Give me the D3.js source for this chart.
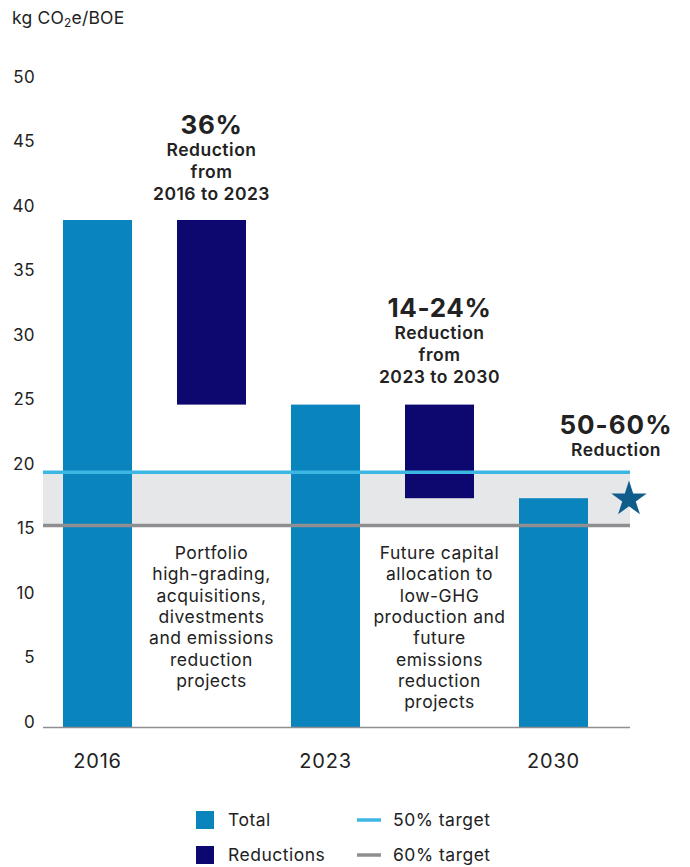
<!DOCTYPE html>
<html><head><meta charset="utf-8">
<script src="https://cdn.jsdelivr.net/npm/d3@7"></script>
<style>
body{margin:0;background:#fff;}
svg text{font-family:Inter,"Noto Sans",sans-serif;fill:#222;}
</style></head>
<body><svg id="c" width="690" height="867"></svg>
<script>
const slots = ["2016","r1","2023","r2","2030"];
const years = ["2016","2023","2030"];
const totals = [39, 24.8, 17.6];
const reductionSlots = ["r1","r2"];
const reductionFrom = [39, 24.8];
const reductionTo = [24.8, 17.6];
const target50 = 19.6;
const target60 = 15.5;
const starValue = 17.6;
const yTicks = [0,5,10,15,20,25,30,35,40,45,50];
const headlines = [
  {slot:"r1", big:"36%", lines:["Reduction","from","2016 to 2023"]},
  {slot:"r2", big:"14-24%", lines:["Reduction","from","2023 to 2030"]}
];
const notes = [
  {slot:"r1", lines:["Portfolio","high-grading,","acquisitions,","divestments","and emissions","reduction","projects"]},
  {slot:"r2", lines:["Future capital","allocation to","low-GHG","production and","future","emissions","reduction","projects"]}
];
const C = {total:"#0a84bd", red:"#0c0870", t50:"#3cb6e3", t60:"#8f8f91", band:"#e6e7e9", star:"#0e5d8a"};

const svg = d3.select("#c");
const y = d3.scaleLinear().domain([0,50]).range([727,77]);
const yLab = d3.scaleLinear().domain([0,50]).range([722,77]);
const x = d3.scaleBand().domain(slots).range([40.5,610.5]).paddingInner(45/114).paddingOuter(45/228);
const axisL = 43, axisR = 630;

svg.append("rect").attr("x",axisL).attr("width",axisR-axisL)
  .attr("y",y(target50)).attr("height",y(target60)-y(target50)).attr("fill",C.band);

svg.selectAll(".tot").data(years).join("rect")
  .attr("x",d=>x(d)).attr("width",x.bandwidth())
  .attr("y",(d,i)=>y(totals[i])).attr("height",(d,i)=>y(0)-y(totals[i])).attr("fill",C.total);
svg.selectAll(".red").data(reductionSlots).join("rect")
  .attr("x",d=>x(d)).attr("width",x.bandwidth())
  .attr("y",(d,i)=>y(reductionFrom[i])).attr("height",(d,i)=>y(reductionTo[i])-y(reductionFrom[i])).attr("fill",C.red);

svg.append("line").attr("x1",axisL).attr("x2",axisR).attr("y1",y(target50)).attr("y2",y(target50)).attr("stroke",C.t50).attr("stroke-width",3.5);
svg.append("line").attr("x1",axisL).attr("x2",axisR).attr("y1",y(target60)).attr("y2",y(target60)).attr("stroke",C.t60).attr("stroke-width",3.5);

svg.append("path").attr("d",d3.symbol(d3.symbolStar,390)())
  .attr("transform",`translate(629,${y(starValue)+1})`).attr("fill",C.star);

const ya = svg.append("g").attr("transform","translate(35,0)")
  .call(d3.axisLeft(yLab).tickValues(yTicks).tickSize(0).tickPadding(0));
ya.select(".domain").remove();
ya.selectAll("text").attr("font-size",17).attr("fill","#222").style("font-family","Inter,'Noto Sans',sans-serif").attr("letter-spacing",0.4);

svg.append("line").attr("x1",axisL).attr("x2",axisR).attr("y1",y(0)+0.5).attr("y2",y(0)+0.5).attr("stroke","#8f8f91").attr("stroke-width",1.5);

const xa = svg.append("g").attr("transform",`translate(0,${y(0)+41})`)
  .call(d3.axisBottom(x).tickValues(years).tickSize(0).tickPadding(0));
xa.select(".domain").remove();
xa.selectAll("text").attr("font-size",20).attr("fill","#222").style("font-family","Inter,'Noto Sans',sans-serif").attr("dy","0").attr("letter-spacing",0.8);

const t = svg.append("text").attr("x",12).attr("y",24).attr("font-size",17.5).attr("letter-spacing",0.2);
t.append("tspan").text("kg CO");
t.append("tspan").text("2").attr("font-size",12).attr("dy",3);
t.append("tspan").text("e/BOE").attr("dy",-3);

headlines.forEach((h,k)=>{
  const cx = x(h.slot)+x.bandwidth()/2;
  const top = k===0 ? 134 : 317;
  svg.append("text").attr("x",cx).attr("y",top).attr("text-anchor","middle").attr("font-size",26).attr("font-weight",700).attr("letter-spacing",0.6).text(h.big);
  h.lines.forEach((l,i)=>svg.append("text").attr("x",cx).attr("y",top+22+i*22).attr("text-anchor","middle").attr("font-size",17.5).attr("font-weight",600).attr("letter-spacing",0.5).text(l));
});
svg.append("text").attr("x",616).attr("y",434).attr("text-anchor","middle").attr("font-size",26).attr("font-weight",700).attr("letter-spacing",1).text("50-60%");
svg.append("text").attr("x",616).attr("y",456).attr("text-anchor","middle").attr("font-size",17.5).attr("font-weight",600).attr("letter-spacing",0.5).text("Reduction");

notes.forEach(n=>{
  const cx = x(n.slot)+x.bandwidth()/2;
  n.lines.forEach((l,i)=>svg.append("text").attr("x",cx).attr("y",559+i*21.3).attr("text-anchor","middle").attr("font-size",17.5).attr("letter-spacing",0.5).text(l));
});

const leg = svg.append("g");
[["Total",C.total,820],["Reductions",C.red,855]].forEach(([lab,col,cy])=>{
  leg.append("rect").attr("x",196).attr("y",cy-9).attr("width",18).attr("height",18).attr("fill",col);
  leg.append("text").attr("x",228).attr("y",cy+6).attr("font-size",17.5).attr("letter-spacing",0.5).text(lab);
});
[["50% target",C.t50,820],["60% target",C.t60,855]].forEach(([lab,col,cy])=>{
  leg.append("line").attr("x1",357).attr("x2",381).attr("y1",cy).attr("y2",cy).attr("stroke",col).attr("stroke-width",3.5);
  leg.append("text").attr("x",393).attr("y",cy+6).attr("font-size",17.5).attr("letter-spacing",0.5).text(lab);
});
</script></body></html>
